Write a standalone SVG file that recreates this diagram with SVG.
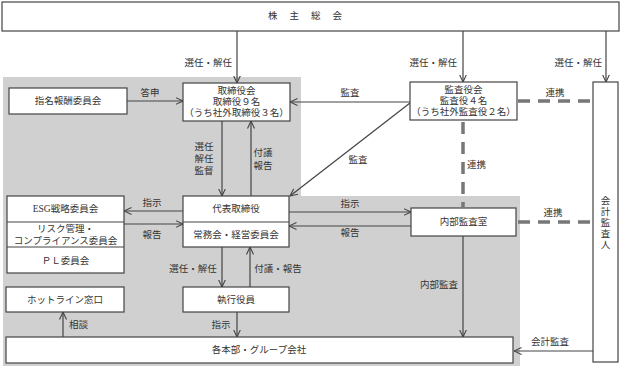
<svg xmlns="http://www.w3.org/2000/svg" width="621" height="367" viewBox="0 0 621 367">
<style>
text{font-family:"Liberation Serif","Noto Sans CJK JP",serif;font-size:9.5px;fill:#333;dominant-baseline:central}
.c{text-anchor:middle}
.r{text-anchor:end}
.box{fill:#fff;stroke:#444;stroke-width:1.2}
.ln{stroke:#444;stroke-width:1.2;fill:none}
.ar{stroke:#444;stroke-width:1.2;fill:none;marker-end:url(#ah)}
.dash{stroke:#777;stroke-width:3.5;stroke-dasharray:12 8;fill:none}
</style>
<defs>
<marker id="ah" viewBox="0 0 8 8" refX="7.5" refY="4" markerWidth="8" markerHeight="8" markerUnits="userSpaceOnUse" orient="auto">
<path d="M0,0.5 L7.5,4 L0,7.5" fill="none" stroke="#444" stroke-width="1.1"/>
</marker>
</defs>
<polygon points="3,77 301,77 301,196 520,196 520,366 3,366" fill="#d0d0d0"/>

<g id="connectors">
<line class="ar" x1="237" y1="31" x2="237" y2="83"/>
<line class="ar" x1="463" y1="31" x2="463" y2="82"/>
<line class="ar" x1="606" y1="31" x2="606" y2="82"/>
<line class="ar" x1="127" y1="101" x2="183" y2="101"/>
<line class="ar" x1="410" y1="102" x2="290" y2="102"/>
<line class="ar" x1="410" y1="103" x2="290" y2="196"/>
<line class="ar" x1="222" y1="121" x2="222" y2="196"/>
<line class="ar" x1="251" y1="196" x2="251" y2="121"/>
<line class="ar" x1="183" y1="211" x2="124" y2="211"/>
<line class="ar" x1="124" y1="224" x2="183" y2="224"/>
<line class="ar" x1="289" y1="212" x2="411" y2="212"/>
<line class="ar" x1="411" y1="226" x2="289" y2="226"/>
<line class="ar" x1="222" y1="247" x2="222" y2="287"/>
<line class="ar" x1="250" y1="287" x2="250" y2="247"/>
<line class="ar" x1="237" y1="312" x2="237" y2="337"/>
<line class="ar" x1="63" y1="337" x2="63" y2="312"/>
<line class="ar" x1="463" y1="236" x2="463" y2="337"/>
<line class="ar" x1="593" y1="351" x2="514" y2="351"/>
<line class="dash" x1="518" y1="101" x2="593" y2="101"/>
<line class="dash" x1="463" y1="122" x2="463" y2="207"/>
<line class="dash" x1="518" y1="222" x2="593" y2="222"/>
<text class="r" x="232" y="63">選任・解任</text>
<text class="r" x="457" y="63">選任・解任</text>
<text class="r" x="602" y="63">選任・解任</text>
<text class="c" x="150" y="93">答申</text>
<text class="c" x="350" y="93">監査</text>
<text class="c" x="358" y="160">監査</text>
<text class="c" x="555" y="93">連携</text>
<text x="467" y="165">連携</text>
<text class="c" x="553" y="213">連携</text>
<text class="c" x="204" y="147">選任</text>
<text class="c" x="204" y="159">解任</text>
<text class="c" x="204" y="171">監督</text>
<text class="c" x="263" y="153">付議</text>
<text class="c" x="263" y="166">報告</text>
<text class="c" x="152" y="203">指示</text>
<text class="c" x="152" y="235">報告</text>
<text class="c" x="350" y="204">指示</text>
<text class="c" x="350" y="233">報告</text>
<text class="c" x="193" y="269">選任・解任</text>
<text class="c" x="278" y="269">付議・報告</text>
<text class="r" x="458" y="285">内部監査</text>
<text class="c" x="221" y="325">指示</text>
<text x="69" y="325">相談</text>
<text class="c" x="550" y="342">会計監査</text>
</g>

<g id="shareholders">
<rect class="box" x="2" y="2" width="617" height="29"/>
<text class="c" x="311" y="16" style="letter-spacing:12px">株主総会</text>
</g>
<g id="nomination">
<rect class="box" x="9" y="88" width="118" height="26"/>
<text class="c" x="68" y="101">指名報酬委員会</text>
</g>
<g id="board">
<rect class="box" x="183" y="83" width="107" height="38"/>
<text class="c" x="236.5" y="91">取締役会</text>
<text class="c" x="236.5" y="102">取締役９名</text>
<text class="c" x="236.5" y="113">（うち社外取締役３名）</text>
</g>
<g id="auditors">
<rect class="box" x="410" y="82" width="107" height="38"/>
<text class="c" x="463.5" y="90">監査役会</text>
<text class="c" x="463.5" y="101">監査役４名</text>
<text class="c" x="463.5" y="112">（うち社外監査役２名）</text>
</g>
<g id="accounting-auditor">
<rect class="box" x="593" y="82" width="25" height="280"/>
<text class="c" x="605.5" y="201">会</text>
<text class="c" x="605.5" y="212">計</text>
<text class="c" x="605.5" y="223">監</text>
<text class="c" x="605.5" y="234">査</text>
<text class="c" x="605.5" y="245">人</text>
</g>
<g id="committees">
<rect class="box" x="7" y="196" width="117" height="77"/>
<line class="ln" x1="7" y1="222" x2="124" y2="222"/>
<line class="ln" x1="7" y1="247" x2="124" y2="247"/>
<text class="c" x="65.5" y="209">ESG戦略委員会</text>
<text class="c" x="65.5" y="229">リスク管理・</text>
<text class="c" x="65.5" y="241">コンプライアンス委員会</text>
<text class="c" x="65.5" y="261">ＰＬ委員会</text>
</g>
<g id="representative">
<rect class="box" x="183" y="196" width="106" height="51"/>
<line class="ln" x1="183" y1="222" x2="289" y2="222"/>
<text class="c" x="236" y="209">代表取締役</text>
<text class="c" x="236" y="235">常務会・経営委員会</text>
</g>
<g id="internal-audit">
<rect class="box" x="411" y="208" width="105" height="28"/>
<text class="c" x="463.5" y="222">内部監査室</text>
</g>
<g id="hotline">
<rect class="box" x="6" y="287" width="118" height="25"/>
<text class="c" x="65" y="299.5">ホットライン窓口</text>
</g>
<g id="officers">
<rect class="box" x="183" y="287" width="106" height="25"/>
<text class="c" x="236" y="299.5">執行役員</text>
</g>
<g id="group">
<rect class="box" x="6" y="337" width="507" height="26"/>
<text class="c" x="259" y="350">各本部・グループ会社</text>
</g>
</svg>
